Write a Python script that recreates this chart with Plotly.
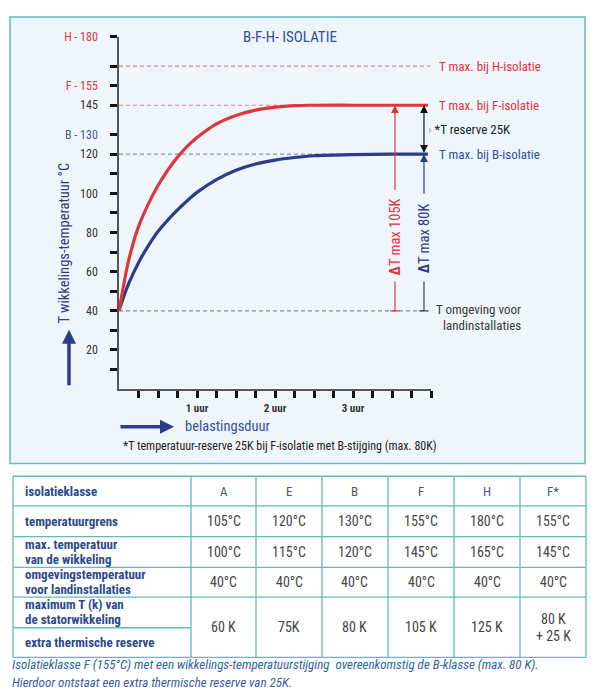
import plotly.graph_objects as go

# ---------------- data ----------------
hours = [0, 0.05, 0.125, 0.25, 0.375, 0.5, 0.625, 0.75, 0.875, 1.0, 1.25, 1.5, 1.75, 2.0, 2.25, 2.5, 3.0, 3.5, 3.96]
temp_F = [40, 51, 66, 83, 94.5, 104, 111.8, 118.5, 124, 128.5, 135.5, 139.8, 142.5, 144, 144.8, 145, 145, 145, 145]
temp_B = [40, 46, 54, 64.6, 73.2, 80.5, 86.3, 91.5, 96.2, 100.5, 107, 111.8, 115, 117, 118.3, 119.2, 119.8, 120, 120]

t_ambient = 40
t_max_B = 120
t_max_F = 145
t_max_H = 165

y_tickvals = [180, 165, 155, 145, 130, 120, 110, 100, 90, 80, 70, 60, 50, 40, 30, 20, 10]
y_ticktext = ["H - 180", "", "F - 155", "145", "B - 130", "120", "", "100", "", "80", "", "60", "", "40", "", "20", ""]
x_tickvals = [0.25 * i for i in range(1, 17)]
x_ticklabels = {1.0: "1 uur", 2.0: "2 uur", 3.0: "3 uur"}

classes = ["A", "E", "B", "F", "H", "F*"]
temp_limit = ["105°C", "120°C", "130°C", "155°C", "180°C", "155°C"]
max_winding = ["100°C", "115°C", "120°C", "145°C", "165°C", "145°C"]
ambient = ["40°C", "40°C", "40°C", "40°C", "40°C", "40°C"]
max_rise = ["60 K", "75K", "80 K", "105 K", "125 K", "80 K<br>+ 25 K"]
row_labels = [["isolatieklasse"], ["temperatuurgrens"], ["max. temperatuur", "van de wikkeling"],
              ["omgevingstemperatuur", "voor landinstallaties"], ["maximum T (k) van", "de statorwikkeling"],
              ["extra thermische reserve"]]

# ---------------- style ----------------
W, H = 597, 700
NARROW = "Liberation Sans Narrow, Arial Narrow, Roboto Condensed, DejaVu Sans Condensed, sans-serif"
RED = "#e0353b"
NAVY = "#2e3a8c"
TEXTBLUE = "#34509a"
GRAY = "#3a3a3a"
TEAL = "#63b9c0"


def px(x):
    return x / W


def py(y):
    return 1 - y / H


def label(x, y, text, size, color, xanchor="center", yanchor="middle", **kw):
    d = dict(x=px(x), y=py(y), xref="paper", yref="paper", text=text, showarrow=False,
             xanchor=xanchor, yanchor=yanchor, font=dict(family=NARROW, size=size, color=color))
    d.update(kw)
    return d


fig = go.Figure()

# reference dashed lines
for val, col, xend in [(t_max_H, "#d28a98", 3.99), (t_max_F, "#d98a98", 3.96),
                       (t_max_B, "#8a90b4", 3.96), (t_ambient, "#8c8c8c", 3.91)]:
    fig.add_trace(go.Scatter(x=[0, xend], y=[val, val], mode="lines",
                             line=dict(color=col, width=1.2, dash="4px,3px"),
                             hoverinfo="skip", showlegend=False))

fig.add_trace(go.Scatter(x=hours, y=temp_B, mode="lines", line=dict(color=NAVY, width=3.2, shape="spline"),
                         showlegend=False))
fig.add_trace(go.Scatter(x=hours, y=temp_F, mode="lines", line=dict(color=RED, width=3.2, shape="spline"),
                         showlegend=False))

shapes = []
annotations = []

# panel background
shapes.append(dict(type="rect", xref="paper", yref="paper", x0=px(10), x1=px(585), y0=py(461), y1=py(10),
                   fillcolor="#eef6fc", line=dict(color=TEAL, width=1.5), layer="below"))

# delta-T arrows
xr, xb = 3.538, 3.91
annotations.append(dict(x=xr, y=t_max_F, ax=xr, ay=101, xref="x", yref="y", axref="x", ayref="y",
                        text="", showarrow=True, arrowhead=2, arrowsize=1.3, arrowwidth=1.2, arrowcolor=RED))
annotations.append(dict(x=xb, y=t_max_B, ax=xb, ay=99, xref="x", yref="y", axref="x", ayref="y",
                        text="", showarrow=True, arrowhead=2, arrowsize=1.3, arrowwidth=1.2, arrowcolor=NAVY))
annotations.append(dict(x=xb, y=t_max_F, ax=xb, ay=t_max_B, xref="x", yref="y", axref="x", ayref="y",
                        text="", showarrow=True, arrowhead=2, arrowside="end+start", arrowsize=1.3,
                        arrowwidth=1.2, arrowcolor="#111"))
for xv, col in [(xr, RED), (xb, NAVY)]:
    shapes.append(dict(type="line", xref="x", yref="y", x0=xv, x1=xv, y0=t_ambient, y1=55,
                       line=dict(color=col, width=1.2)))
    shapes.append(dict(type="line", xref="x", yref="y", x0=xv - 0.06, x1=xv + 0.06, y0=t_ambient, y1=t_ambient,
                       line=dict(color=col, width=1.2)))
annotations.append(dict(x=xr, y=78, xref="x", yref="y", text="<b>Δ</b>T max 105K", textangle=-90, showarrow=False,
                        xanchor="center", yanchor="middle",
                        font=dict(family=NARROW, size=14.5, color=RED)))
annotations.append(dict(x=xb, y=77, xref="x", yref="y", text="<b>Δ</b>T max 80K", textangle=-90, showarrow=False,
                        xanchor="center", yanchor="middle",
                        font=dict(family=NARROW, size=14.5, color=NAVY)))

# right labels
for val, txt, col in [(t_max_H, "T max. bij H-isolatie", RED), (t_max_F, "T max. bij F-isolatie", RED),
                      (t_max_B, "T max. bij B-isolatie", TEXTBLUE)]:
    annotations.append(dict(x=px(437), y=val, xref="paper", yref="y", xanchor="left", yanchor="middle",
                            text=txt, showarrow=False, font=dict(family=NARROW, size=13, color=col)))
annotations.append(dict(x=px(426), y=(t_max_F + t_max_B) / 2, xref="paper", yref="y", xanchor="left",
                        yanchor="middle", text="<span style='color:#aaa'>›</span> *T reserve 25K",
                        showarrow=False, font=dict(family=NARROW, size=13, color="#222")))
annotations.append(label(523, 306, "T omgeving voor", 13, GRAY, xanchor="right"))
annotations.append(label(523, 322, "landinstallaties", 13, GRAY, xanchor="right"))

# title
annotations.append(label(290, 30, "B-F-H- ISOLATIE", 15, TEXTBLUE))

# axis titles and arrows
annotations.append(label(65, 239, "T wikkelings-temperatuur °C", 14.5, NAVY, textangle=-90))
annotations.append(dict(x=px(69), y=py(326), xref="paper", yref="paper", ax=0, ay=57, text="",
                        showarrow=True, arrowhead=2, arrowsize=0.8, arrowwidth=3.5, arrowcolor=NAVY))
annotations.append(label(183, 424, "belastingsduur", 14.5, TEXTBLUE, xanchor="left"))
annotations.append(dict(x=px(174), y=py(424), xref="paper", yref="paper", ax=-55, ay=0, text="",
                        showarrow=True, arrowhead=2, arrowsize=0.8, arrowwidth=3.5, arrowcolor=NAVY))
annotations.append(label(121, 443, "*T temperatuur-reserve 25K bij F-isolatie met B-stijging (max. 80K)",
                         12, "#222", xanchor="left"))

# ---------------- table ----------------
col_edges = [13, 191, 256, 322, 388, 454, 520, 586]
row_edges = [474, 504, 535, 566, 596, 627, 657]
shapes.append(dict(type="rect", xref="paper", yref="paper", x0=px(col_edges[0]), x1=px(col_edges[-1]),
                   y0=py(row_edges[-1]), y1=py(row_edges[0]), fillcolor="white", line=dict(width=0), layer="below"))
for xe in col_edges:
    shapes.append(dict(type="line", xref="paper", yref="paper", x0=px(xe), x1=px(xe), y0=py(row_edges[0]),
                       y1=py(row_edges[-1]), line=dict(color=TEAL, width=1.3)))
for i, ye in enumerate(row_edges):
    x_end = col_edges[1] if i == 5 else col_edges[-1]
    shapes.append(dict(type="line", xref="paper", yref="paper", x0=px(col_edges[0]), x1=px(x_end),
                       y0=py(ye), y1=py(ye), line=dict(color=TEAL, width=1.3)))

label_centers = [(row_edges[i] + row_edges[i + 1]) / 2 for i in range(6)]
for lines, yc in zip(row_labels, label_centers):
    n = len(lines)
    for k, ln in enumerate(lines):
        yy = yc + (k - (n - 1) / 2) * 15
        annotations.append(label(23, yy, "<b>" + ln + "</b>", 13, "#2c4a8c", xanchor="left"))

data_rows = [classes, temp_limit, max_winding, ambient]
for vals, yc in zip(data_rows, label_centers[:4]):
    for j, v in enumerate(vals):
        xc = (col_edges[j + 1] + col_edges[j + 2]) / 2
        if vals is classes:
            annotations.append(label(xc, yc, v, 13, "#505868"))
        else:
            annotations.append(label(xc, yc, v, 14, "#454545"))
yc_merged = (row_edges[4] + row_edges[6]) / 2
for j, v in enumerate(max_rise):
    xc = (col_edges[j + 1] + col_edges[j + 2]) / 2
    lines = v.split("<br>")
    n = len(lines)
    for k, ln in enumerate(lines):
        yy = yc_merged + (k - (n - 1) / 2) * 17
        annotations.append(label(xc, yy, ln, 14, "#454545"))

annotations.append(label(10, 664,
                         "<i>Isolatieklasse F (155°C) met een wikkelings-temperatuurstijging  overeenkomstig de B-klasse (max. 80 K).</i>",
                         13, "#3a5ca8", xanchor="left"))
annotations.append(label(10, 682, "<i>Hierdoor ontstaat een extra thermische reserve van 25K.</i>",
                         13, "#3a5ca8", xanchor="left"))

y_ticktext_styled = []
for t in y_ticktext:
    if t.startswith("H") or t.startswith("F"):
        y_ticktext_styled.append(f"<span style='color:{RED}'>{t}</span>")
    elif t.startswith("B"):
        y_ticktext_styled.append(f"<span style='color:#4a5898'>{t}</span>")
    else:
        y_ticktext_styled.append(t)

fig.update_layout(
    width=W, height=H, margin=dict(l=0, r=0, t=0, b=0),
    paper_bgcolor="white", plot_bgcolor="rgba(0,0,0,0)",
    shapes=shapes, annotations=annotations, showlegend=False,
    xaxis=dict(domain=[px(119), px(431)], range=[0, 4], showgrid=False, zeroline=False,
               showline=True, linecolor="#555", linewidth=1.5,
               tickmode="array", tickvals=x_tickvals,
               ticktext=["<b>" + x_ticklabels[v] + "</b>" if v in x_ticklabels else "" for v in x_tickvals],
               ticks="outside", ticklen=7, tickwidth=2.5, tickcolor="#111", ticklabelstandoff=1,
               tickfont=dict(family=NARROW, size=11, color="#333")),
    yaxis=dict(domain=[py(386), py(30)], range=[0, 180], showgrid=False, zeroline=False,
               showline=True, linecolor="#555", linewidth=1.5,
               tickmode="array", tickvals=y_tickvals, ticktext=y_ticktext_styled,
               ticks="outside", ticklen=7, tickwidth=2.5, tickcolor="#111", ticklabelstandoff=10,
               tickfont=dict(family=NARROW, size=12, color="#333")),
)

fig.write_html("out.html", config={"displayModeBar": False},
               post_script="document.body.style.margin='0';")
